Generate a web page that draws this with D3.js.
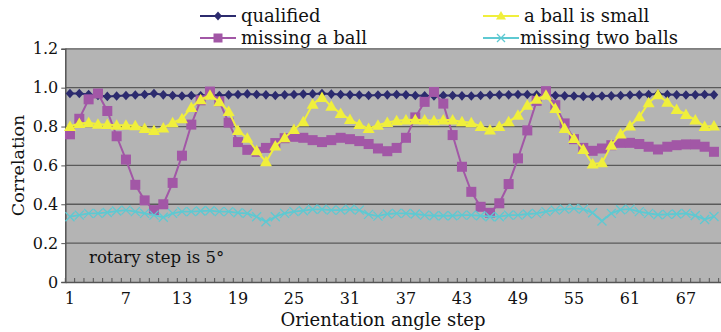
<!DOCTYPE html>
<html>
<head>
<meta charset="utf-8">
<script src="https://cdn.jsdelivr.net/npm/d3@7/dist/d3.min.js"></script>
<style>
  html, body { margin: 0; padding: 0; background: #ffffff; }
  svg { display: block; }
  text { font-family: "DejaVu Serif", "Liberation Serif", serif; fill: #111; }
</style>
</head>
<body>
<svg id="chart" width="721" height="332"></svg>
<script>
// ---- data ----
const steps = d3.range(1, 73);            // 72 orientation steps (5° each)
const xTickSteps = [1, 7, 13, 19, 25, 31, 37, 43, 49, 55, 61, 67];
const yTicks = [0, 0.2, 0.4, 0.6, 0.8, 1.0, 1.2];

const qualified = [
  0.970, 0.970, 0.965, 0.960, 0.955, 0.957, 0.960, 0.962, 0.965, 0.970,
  0.963, 0.960, 0.957, 0.960, 0.958, 0.963, 0.960, 0.963, 0.965, 0.968,
  0.965, 0.963, 0.960, 0.963, 0.965, 0.967, 0.968, 0.970, 0.967, 0.965,
  0.963, 0.962, 0.960, 0.962, 0.963, 0.965, 0.963, 0.960, 0.958, 0.957,
  0.960, 0.960, 0.958, 0.957, 0.960, 0.962, 0.963, 0.963, 0.965, 0.965,
  0.963, 0.962, 0.960, 0.958, 0.957, 0.955, 0.955, 0.957, 0.958, 0.960,
  0.962, 0.963, 0.965, 0.967, 0.965, 0.963, 0.962, 0.963, 0.965, 0.963
];
const missingBall = [
  0.76, 0.84, 0.94, 0.97, 0.88, 0.75, 0.63, 0.50, 0.42, 0.37,
  0.40, 0.51, 0.65, 0.81, 0.935, 0.98, 0.93, 0.82, 0.72, 0.68,
  0.67, 0.69, 0.715, 0.74, 0.747, 0.742, 0.73, 0.72, 0.73, 0.742,
  0.735, 0.725, 0.71, 0.687, 0.673, 0.69, 0.742, 0.847, 0.927, 0.978,
  0.918, 0.756, 0.593, 0.464, 0.387, 0.356, 0.405, 0.504, 0.636, 0.78,
  0.932, 0.982, 0.91, 0.816, 0.735, 0.69, 0.675, 0.687, 0.704, 0.716,
  0.716, 0.71, 0.696, 0.682, 0.696, 0.704, 0.708, 0.708, 0.696, 0.67
];
const ballSmall = [
  0.80, 0.816, 0.82, 0.812, 0.81, 0.807, 0.807, 0.804, 0.79, 0.78,
  0.793, 0.82, 0.84, 0.898, 0.938, 0.961, 0.927, 0.878, 0.779, 0.74,
  0.675, 0.619, 0.70, 0.742, 0.785, 0.824, 0.915, 0.95, 0.905, 0.867,
  0.836, 0.81, 0.79, 0.807, 0.821, 0.83, 0.833, 0.835, 0.833, 0.83,
  0.833, 0.833, 0.824, 0.82, 0.80, 0.782, 0.80, 0.824, 0.858, 0.91,
  0.94, 0.961, 0.893, 0.79, 0.739, 0.682, 0.607, 0.613, 0.704, 0.762,
  0.803, 0.85, 0.922, 0.963, 0.925, 0.888, 0.862, 0.833, 0.80, 0.803
];
const twoBalls = [
  0.336, 0.344, 0.353, 0.353, 0.358, 0.365, 0.370, 0.362, 0.353, 0.344,
  0.333, 0.353, 0.362, 0.362, 0.365, 0.367, 0.362, 0.362, 0.356, 0.353,
  0.336, 0.310, 0.336, 0.353, 0.362, 0.367, 0.374, 0.374, 0.370, 0.370,
  0.374, 0.370, 0.348, 0.339, 0.350, 0.353, 0.353, 0.350, 0.344, 0.341,
  0.341, 0.341, 0.344, 0.344, 0.341, 0.336, 0.336, 0.344, 0.344, 0.350,
  0.353, 0.362, 0.370, 0.375, 0.379, 0.375, 0.356, 0.314, 0.353, 0.372,
  0.375, 0.362, 0.353, 0.346, 0.348, 0.350, 0.353, 0.342, 0.322, 0.337
];

const seriesNames = ["qualified", "missing a ball", "a ball is small", "missing two balls"];

// ---- layout ----
const svg = d3.select("#chart");
const plot = { left: 65.3, top: 48.8, bottom: 282, right: 737.3 };

const x = d3.scaleBand().domain(steps).range([plot.left, plot.right]).padding(0);
const cx = d => x(d) + x.bandwidth() / 2;
const y = d3.scaleLinear().domain([0, 1.2]).range([plot.bottom, plot.top]);

// plot background
svg.append("rect")
  .attr("x", plot.left).attr("y", plot.top)
  .attr("width", plot.right - plot.left).attr("height", plot.bottom - plot.top)
  .attr("fill", "#b4b4b4");

// gridlines
svg.append("g").selectAll("line")
  .data(yTicks.filter(v => v > 0))
  .join("line")
  .attr("x1", plot.left).attr("x2", plot.right)
  .attr("y1", d => y(d)).attr("y2", d => y(d))
  .attr("stroke", "#5a5a5a").attr("stroke-width", 1.3);

// y axis
const yAxis = svg.append("g")
  .attr("transform", `translate(${plot.left},0)`)
  .call(d3.axisLeft(y).tickValues(yTicks)
    .tickFormat(d => d === 0 ? "0" : d.toFixed(1))
    .tickSize(4).tickPadding(3));
yAxis.select(".domain").attr("stroke", "#555").attr("stroke-width", 1.5);
yAxis.selectAll(".tick line").attr("stroke", "#555");
yAxis.selectAll("text").attr("font-size", 16).attr("font-family", "DejaVu Serif").attr("fill", "#111");

// x axis
const xAxis = svg.append("g")
  .attr("transform", `translate(0,${plot.bottom})`)
  .call(d3.axisBottom(x).tickValues(xTickSteps).tickSize(0).tickPadding(11));
xAxis.select(".domain").attr("stroke", "#555").attr("stroke-width", 1.5);
xAxis.selectAll("text").attr("font-size", 16).attr("font-family", "DejaVu Serif").attr("fill", "#111");

// minor tick marks (pointing into plot) at category boundaries
svg.append("g").selectAll("line")
  .data(steps)
  .join("line")
  .attr("x1", d => x(d)).attr("x2", d => x(d))
  .attr("y1", plot.bottom).attr("y2", plot.bottom - 4)
  .attr("stroke", "#555").attr("stroke-width", 1);

// axis titles
svg.append("text")
  .attr("x", 383).attr("y", 326)
  .attr("text-anchor", "middle").attr("font-size", 18)
  .text("Orientation angle step");
svg.append("text")
  .attr("transform", `translate(24,${(plot.top + plot.bottom) / 2}) rotate(-90)`)
  .attr("text-anchor", "middle").attr("font-size", 17.5)
  .text("Correlation");

// annotation
svg.append("text")
  .attr("x", 89).attr("y", 263).attr("font-size", 16.5)
  .text("rotary step is 5°");

// ---- series ----
const colors = {
  qualified: "#2c2b6e",
  missing: "#a257a6",
  small: "#f0ef3c",
  two: "#5ec9d2"
};

const line = d3.line().x((d, i) => cx(steps[i])).y(d => y(d));

function drawLine(data, color, w) {
  svg.append("path").datum(data)
    .attr("fill", "none").attr("stroke", color).attr("stroke-width", w)
    .attr("d", line);
}

// qualified - diamonds
drawLine(qualified, colors.qualified, 2);
svg.append("g").selectAll("path").data(qualified).join("path")
  .attr("transform", (d, i) => `translate(${cx(steps[i])},${y(d)})`)
  .attr("d", "M0,-4.8L4.3,0L0,4.8L-4.3,0Z")
  .attr("fill", colors.qualified);

// missing a ball - squares
drawLine(missingBall, colors.missing, 2);
svg.append("g").selectAll("rect").data(missingBall).join("rect")
  .attr("x", (d, i) => cx(steps[i]) - 5).attr("y", d => y(d) - 5)
  .attr("width", 10).attr("height", 10)
  .attr("fill", colors.missing);

// a ball is small - triangles
drawLine(ballSmall, colors.small, 2);
svg.append("g").selectAll("path").data(ballSmall).join("path")
  .attr("transform", (d, i) => `translate(${cx(steps[i])},${y(d)})`)
  .attr("d", "M0,-6L6,4.5L-6,4.5Z")
  .attr("fill", colors.small);

// missing two balls - x markers
drawLine(twoBalls, colors.two, 1.8);
svg.append("g").selectAll("path").data(twoBalls).join("path")
  .attr("transform", (d, i) => `translate(${cx(steps[i])},${y(d)})`)
  .attr("d", "M-4.5,-4.5L4.5,4.5M-4.5,4.5L4.5,-4.5")
  .attr("stroke", colors.two).attr("stroke-width", 1.3).attr("fill", "none");

// ---- legend ----
const legendItems = [
  { name: seriesNames[0], color: colors.qualified, x: 200, y: 16, marker: "diamond" },
  { name: seriesNames[1], color: colors.missing, x: 200, y: 38, marker: "square" },
  { name: seriesNames[2], color: colors.small, x: 483, y: 16, marker: "triangle" },
  { name: seriesNames[3], color: colors.two, x: 483, y: 38, marker: "cross" }
];
const lg = svg.append("g").selectAll("g").data(legendItems).join("g")
  .attr("transform", d => `translate(${d.x},${d.y})`);
lg.append("line").attr("x1", 0).attr("x2", 36).attr("y1", 0).attr("y2", 0)
  .attr("stroke", d => d.color).attr("stroke-width", 2);
lg.append("path")
  .attr("transform", "translate(18,0)")
  .attr("d", d => d.marker === "diamond" ? "M0,-4.5L4,0L0,4.5L-4,0Z"
    : d.marker === "square" ? "M-4.5,-4.5H4.5V4.5H-4.5Z"
    : d.marker === "triangle" ? "M0,-5L5,3.5L-5,3.5Z"
    : "M-4,-4L4,4M-4,4L4,-4")
  .attr("fill", d => d.marker === "cross" ? "none" : d.color)
  .attr("stroke", d => d.marker === "cross" ? d.color : "none")
  .attr("stroke-width", 1.3);
lg.append("text")
  .attr("x", d => d.marker === "cross" ? 37 : 41).attr("y", 0).attr("dy", "0.33em")
  .attr("font-size", 18)
  .text(d => d.name);
</script>
</body>
</html>
